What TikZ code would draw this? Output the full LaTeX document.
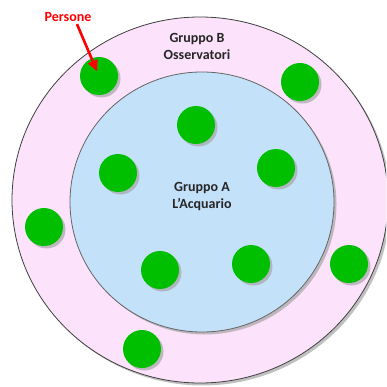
\documentclass[tikz,border=0pt]{standalone}
\usepackage{fontspec}
\setmainfont{Carlito}
\usepackage{xcolor}
\usepackage{tikz}
\usetikzlibrary{positioning}
\usetikzlibrary{arrows.meta}
\usetikzlibrary{shadows}

\definecolor{rosa}{RGB}{252,226,250}
\definecolor{azzurro}{RGB}{196,225,250}
\definecolor{verde}{RGB}{0,190,0}

\tikzset{
    persona/.style={circle, fill=verde, minimum size=38pt, inner sep=0pt,
        drop shadow={shadow xshift=2.5pt, shadow yshift=-2.5pt, fill=gray!70, opacity=0.7}},
    gruppo/.style={draw=black!75, line width=0.8pt,
        drop shadow={shadow xshift=2.5pt, shadow yshift=-2.5pt, fill=gray!70, opacity=0.7}},
    etichetta/.style={font=\fontsize{14}{17}\selectfont\bfseries, align=center, text=black!85}
}

\begin{document}
\begin{tikzpicture}[x=1pt, y=-1pt]
        \useasboundingbox (0,0) rectangle (386,387);

        % Cerchio esterno (osservatori) e interno (acquario)
        \fill[white] (0,0) rectangle (386,387);
        \begin{scope}
            \clip (0,0) rectangle (386,387);
            \draw[gruppo, fill=rosa] (200,200) ellipse [x radius=188, y radius=183];
        \end{scope}
        \draw[gruppo, draw=black!60, fill=azzurro] (202,202) ellipse [x radius=132, y radius=130];

        \node[etichetta] (gruppoB) at (197,46) {Gruppo B\\Osservatori};
        \node[etichetta] (gruppoA) at (202,197) {Gruppo A\\L’Acquario};

        % Persone
        \foreach \x/\y/\n in {
            99/76/p1, 300/82/p2, 44/227/p3, 349/264/p4, 142/349/p5,
            196/125/a1, 118/173/a2, 276/168/a3, 160/270/a4, 251/264/a5
        } {
            \node[persona] (\n) at (\x,\y) {};
        }

        \node[etichetta, text=red] (persone) at (68,17) {Persone};
        \draw[red, line width=2.6pt, -{Triangle[width=10pt, length=11pt]}, shorten >=5pt]
            ([xshift=9pt, yshift=1pt]persone.south) -- (p1.center);

    \end{tikzpicture}
\end{document}
